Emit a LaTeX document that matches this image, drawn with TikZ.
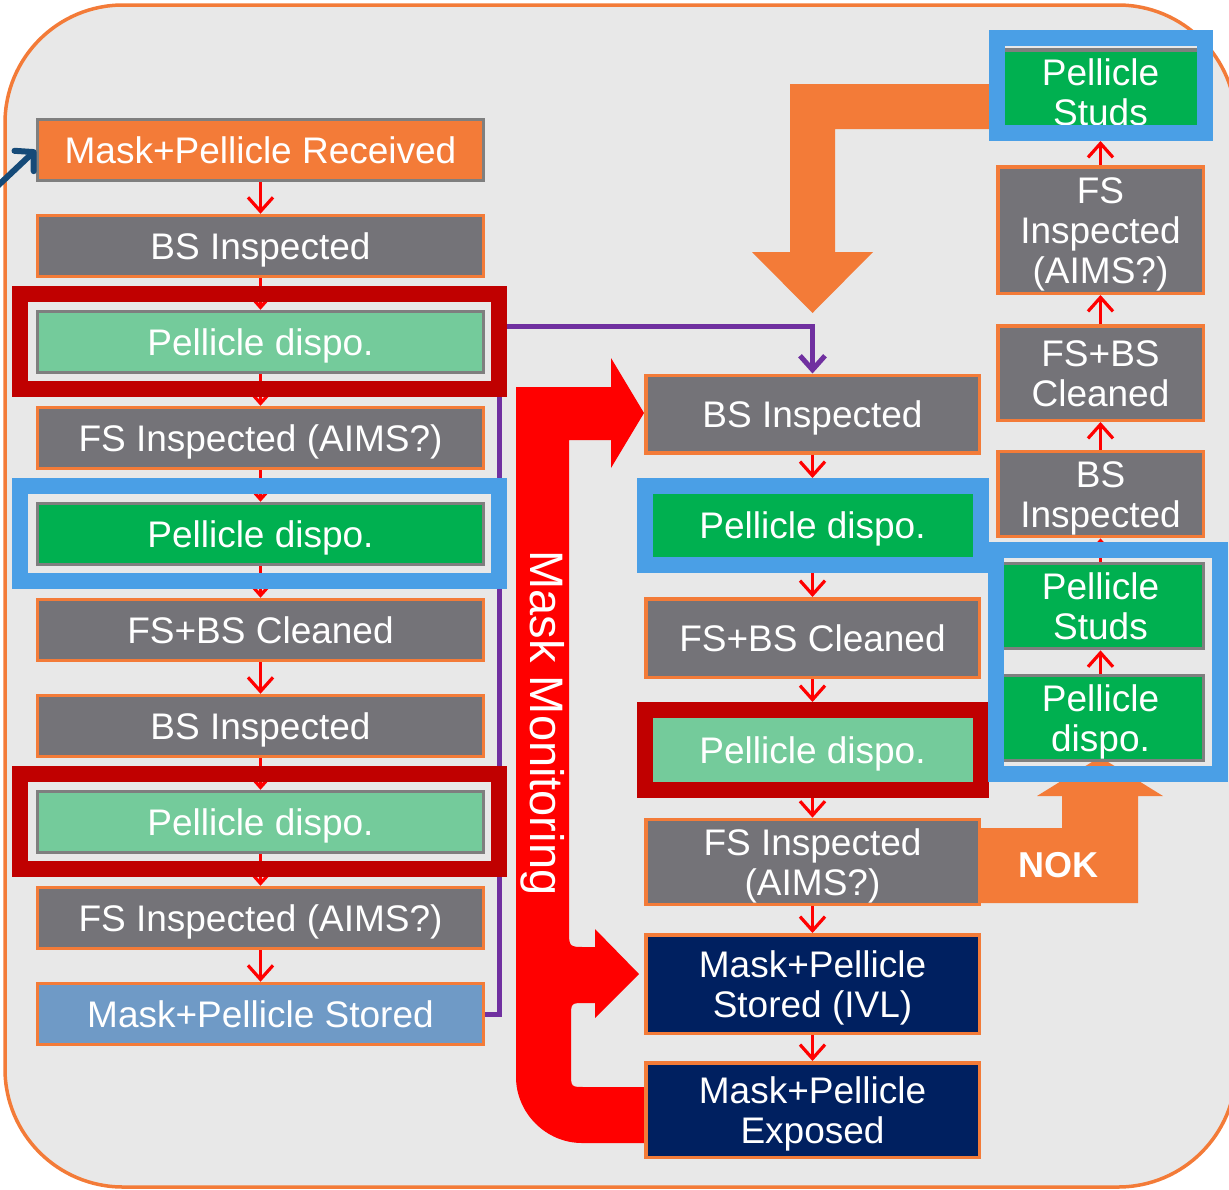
\documentclass[tikz,border=0pt]{standalone}
\usepackage{fontspec}
\setmainfont{Liberation Sans}
\usetikzlibrary{arrows.meta}
\definecolor{orng}{HTML}{F37B38}
\definecolor{bgg}{HTML}{E8E8E8}
\definecolor{boxgray}{HTML}{747378}
\definecolor{bordgray}{HTML}{7F7F7F}
\definecolor{lgreen}{HTML}{74CB9B}
\definecolor{dgreen}{HTML}{00B050}
\definecolor{dred}{HTML}{C00000}
\definecolor{bluefr}{HTML}{4A9FE6}
\definecolor{steel}{HTML}{6F9AC6}
\definecolor{navy}{HTML}{002060}
\definecolor{purp}{HTML}{7030A0}
\definecolor{redc}{HTML}{FF0000}
\definecolor{dblue}{HTML}{154A78}
\newcommand\bxfont{\fontsize{37}{40}\selectfont}
\newcommand\tstrt{\rule{0pt}{36pt}}
\pgfdeclarelayer{bg}
\pgfsetlayers{bg,main}
\tikzset{
  ctext/.style={execute at begin node={\rule{0pt}{35.7pt}}, execute at end node={\rule[-9.25pt]{0pt}{9.25pt}}},
  basebox/.style={rectangle, inner sep=0pt, text=white, align=center, font=\bxfont, line width=3.5pt, ctext},
  graybox/.style={basebox, fill=boxgray, draw=orng},
  lbox/.style={minimum width=446pt, minimum height=61pt},
  mbox/.style={minimum width=333.5pt},
  rbox/.style={minimum width=205.5pt},
  frame/.style={rectangle, inner sep=0pt, line width=16pt, text=white, align=center, font=\bxfont},
  rarr/.style={draw=redc, line width=3.2pt, -{Straight Barb[length=14pt,width=25pt]}},
}
\begin{document}
\begin{tikzpicture}[x=1pt,y=-1pt]
\useasboundingbox (0,0) rectangle (1229,1189);
\begin{pgfonlayer}{bg}
\begin{scope}
\clip (0,0) rectangle (1229,1189);
\filldraw[fill=bgg, draw=orng, line width=3.5pt, rounded corners=118pt] (5,5) rectangle (1236,1187);
\end{scope}
% orange arrow from top studs
\fill[orng] (992,84) -- (790,84) -- (790,252) -- (752,252) -- (812.5,313) -- (873,252) -- (835,252) -- (835,129) -- (992,129) -- cycle;
% NOK arrow
\fill[orng] (978,828) -- (1062,828) -- (1062,796) -- (1037,796) -- (1100,757) -- (1163,796) -- (1138,796) -- (1138,903) -- (978,903) -- cycle;
% Mask monitoring arrow
\fill[redc] (516,387) -- (611,387) -- (611,358) -- (644,413) -- (611,468) -- (611,440) -- (569,440) -- (569,930)
  .. controls (569,947) .. (586,947) -- (595,947) -- (595,929) -- (639,974) -- (595,1018) -- (595,1003) -- (585,1003)
  .. controls (571,1003) .. (571,1017) -- (571,1073) .. controls (571,1087) .. (585,1087) -- (646,1087) -- (646,1143)
  -- (582,1143) .. controls (546,1143) and (516,1113) .. (516,1077) -- cycle;
\end{pgfonlayer}

\node[rotate=-90, inner sep=0pt, text=white, font=\fontsize{47}{50}\selectfont] (mmtext) at (543,723) {Mask Monitoring};
\node[text=white, font=\bfseries\fontsize{36}{40}\selectfont, inner sep=0pt] (nok) at (1058,865) {NOK};

% left column
\node[basebox, lbox, fill=orng, draw=bordgray] (L1) at (260.5,150) {Mask+Pellicle Received};
\node[graybox, lbox] (L2) at (260.5,246) {BS Inspected};
\node[basebox, lbox, fill=lgreen, draw=bordgray] (L3) at (260.5,342) {Pellicle dispo.};
\node[graybox, lbox] (L4) at (260.5,438) {FS Inspected (AIMS?)};
\node[basebox, lbox, fill=dgreen, draw=bordgray] (L5) at (260.5,534) {Pellicle dispo.};
\node[graybox, lbox] (L6) at (260.5,630) {FS+BS Cleaned};
\node[graybox, lbox] (L7) at (260.5,726) {BS Inspected};
\node[basebox, lbox, fill=lgreen, draw=bordgray] (L8) at (260.5,822) {Pellicle dispo.};
\node[graybox, lbox] (L9) at (260.5,918) {FS Inspected (AIMS?)};
\node[basebox, lbox, fill=steel, draw=orng] (L10) at (260.5,1014) {Mask+Pellicle Stored};

% middle column
\node[graybox, mbox, minimum height=77.5pt] (M1) at (812.5,414) {BS Inspected};
\node[frame, ctext, fill=dgreen, draw=bluefr, minimum width=336pt, minimum height=79pt] (MF1) at (812.5,525.5) {Pellicle dispo.};
\node[graybox, mbox, minimum height=78.5pt] (M2) at (812.5,638) {FS+BS Cleaned};
\node[frame, ctext, fill=lgreen, draw=dred, minimum width=336pt, minimum height=80pt] (MF2) at (812.5,750) {Pellicle dispo.};
\node[graybox, mbox, minimum height=78.5pt] (M3) at (812.5,862) {\tstrt FS Inspected\\(AIMS?)};
\node[basebox, mbox, fill=navy, draw=orng, minimum height=98.5pt] (M4) at (812.5,984) {\tstrt Mask+Pellicle\\Stored (IVL)};
\node[basebox, mbox, fill=navy, draw=orng, minimum height=94.5pt] (M5) at (812.5,1110) {\tstrt Mask+Pellicle\\Exposed};

% right column
\node[basebox, rbox, fill=dgreen, draw=bordgray, minimum height=79.5pt] (R1) at (1100.5,92.5) {\tstrt Pellicle\\Studs};
\node[frame, draw=bluefr, minimum width=208pt, minimum height=95pt] (RF1) at (1100.5,85.5) {};
\node[graybox, rbox, minimum height=126.5pt] (R2) at (1100.5,230) {\tstrt FS\\Inspected\\(AIMS?)};
\node[graybox, rbox, minimum height=94.5pt] (R3) at (1100.5,373) {\tstrt FS+BS\\Cleaned};
\node[graybox, rbox, minimum height=78.5pt] (R4) at (1100.5,494) {\tstrt BS\\Inspected};
\node[basebox, rbox, fill=dgreen, draw=bordgray, minimum height=80.5pt] (R5) at (1100.5,606) {\tstrt Pellicle\\Studs};
\node[basebox, rbox, fill=dgreen, draw=bordgray, minimum height=78.5pt] (R6) at (1100.5,718) {\tstrt Pellicle\\dispo.};

% purple connector
\coordinate (pv) at (499,326);
\begin{pgfonlayer}{bg}
\draw[purp, line width=5pt, -{Straight Barb[length=14pt,width=25pt]}] (L10.east) -| (pv) -| (M1.north);
\end{pgfonlayer}

% dark blue incoming arrow
\coordinate (dbstart) at (-30,212);
\draw[dblue, line width=6pt, line cap=round, -{Straight Barb[length=13pt,width=28pt,round]}] (dbstart) -- (L1.west);

% red small arrows
\foreach \a/\b in {L1/L2,L2/L3,L3/L4,L4/L5,L5/L6,L6/L7,L7/L8,L8/L9,L9/L10,M1/MF1,MF1/M2,M2/MF2,MF2/M3,M3/M4,M4/M5}
  \draw[rarr] (\a.south) -- (\b.north);
\foreach \a/\b in {R2/RF1,R3/R2,R4/R3,R5/R4,R6/R5}
  \draw[rarr] (\a.north) -- (\b.south);

% frames on top
\node[frame, draw=dred, minimum width=479pt, minimum height=95pt] (LF1) at (259.5,341.5) {};
\node[frame, draw=bluefr, minimum width=479pt, minimum height=95pt] (LF2) at (259.5,533.5) {};
\node[frame, draw=dred, minimum width=479pt, minimum height=95pt] (LF3) at (259.5,821.5) {};
\node[frame, draw=bluefr, minimum width=224pt, minimum height=224pt] (RF2) at (1108,662) {};
\end{tikzpicture}
\end{document}
